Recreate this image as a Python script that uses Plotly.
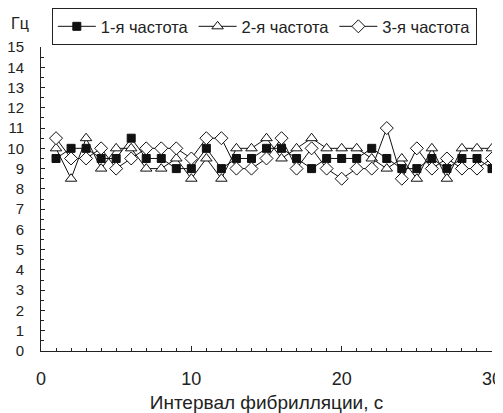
import plotly.graph_objects as go

x_sec = list(range(1, 31))
freq1 = [9.5, 10, 10, 9.5, 9.5, 10.5, 9.5, 9.5, 9, 9,
         10, 9, 9.5, 9.5, 10, 10, 9.5, 9, 9.5, 9.5,
         9.5, 10, 9.5, 9, 9, 9.5, 9, 9.5, 9.5, 9]
freq2 = [10, 8.5, 10.5, 9, 10, 10, 9, 9, 9.5, 8.5,
         9.5, 8.5, 10, 10, 10.5, 9.5, 10, 10.5, 10, 10,
         10, 9.5, 9, 9.5, 8.5, 10, 8.5, 10, 10, 10]
freq3 = [10.5, 9.5, 9.5, 10, 9, 9.5, 10, 10, 10, 9.5,
         10.5, 10.5, 9, 9, 9.5, 10.5, 9, 10, 9, 8.5,
         9, 9, 11, 8.5, 10, 9, 9.5, 9, 9, 9.5]
names = ["1-я частота", "2-я частота", "3-я частота"]
x_title = "Интервал фибрилляции, с"
y_title = "Гц"

FAM = "Liberation Sans, Arial, sans-serif"
C = "#222"

fig = go.Figure()
fig.add_trace(go.Scatter(x=x_sec, y=freq1, name=names[0], mode="lines+markers",
                         line=dict(color="#111", width=1),
                         marker=dict(symbol="square", size=8, color="#111",
                                     line=dict(color="#111", width=1))))
fig.add_trace(go.Scatter(x=x_sec, y=freq2, name=names[1], mode="lines+markers",
                         line=dict(color="#111", width=1),
                         marker=dict(symbol="triangle-up", size=10, color="white",
                                     line=dict(color="#111", width=1))))
fig.add_trace(go.Scatter(x=x_sec, y=freq3, name=names[2], mode="lines+markers",
                         line=dict(color="#111", width=1),
                         marker=dict(symbol="diamond", size=10, color="white",
                                     line=dict(color="#111", width=1))))

fig.update_layout(
    width=495, height=405,
    margin=dict(l=33, r=11, t=39, b=62, autoexpand=False),
    paper_bgcolor="white", plot_bgcolor="white",
    font=dict(family=FAM, size=15, color=C),
    showlegend=True,
    legend=dict(orientation="h", x=0.024, y=1.128, xanchor="left", yanchor="top",
                bordercolor=C, borderwidth=1, bgcolor="white",
                font=dict(family=FAM, size=16.5, color=C), itemwidth=38, tracegroupgap=0),
    xaxis=dict(range=[0, 30], tickmode="array", tickvals=[0, 10, 20, 30],
               ticks="inside", ticklen=5, tickcolor=C,
               tickfont=dict(family=FAM, size=18, color=C),
               showline=True, linecolor=C, linewidth=1, showgrid=False,
               zeroline=False, ticklabelstandoff=11, automargin=False,
               minor=dict(dtick=1, ticks="inside", ticklen=3, tickcolor=C),
               title=dict(text=x_title, font=dict(family=FAM, size=19, color=C), standoff=8)),
    yaxis=dict(range=[0, 15], dtick=1, ticks="inside", ticklen=4, tickcolor=C,
               tickfont=dict(family=FAM, size=15, color=C),
               showline=True, linecolor=C, linewidth=1, showgrid=False,
               zeroline=False, ticklabelstandoff=13, automargin=False,
               minor=dict(dtick=0.5, ticks="inside", ticklen=3, tickcolor=C)),
    annotations=[dict(text=y_title, xref="paper", yref="paper", x=-0.07, y=1.076,
                      xanchor="left", yanchor="middle", showarrow=False,
                      font=dict(family=FAM, size=16, color=C))],
)

fig.write_html("out.html")
